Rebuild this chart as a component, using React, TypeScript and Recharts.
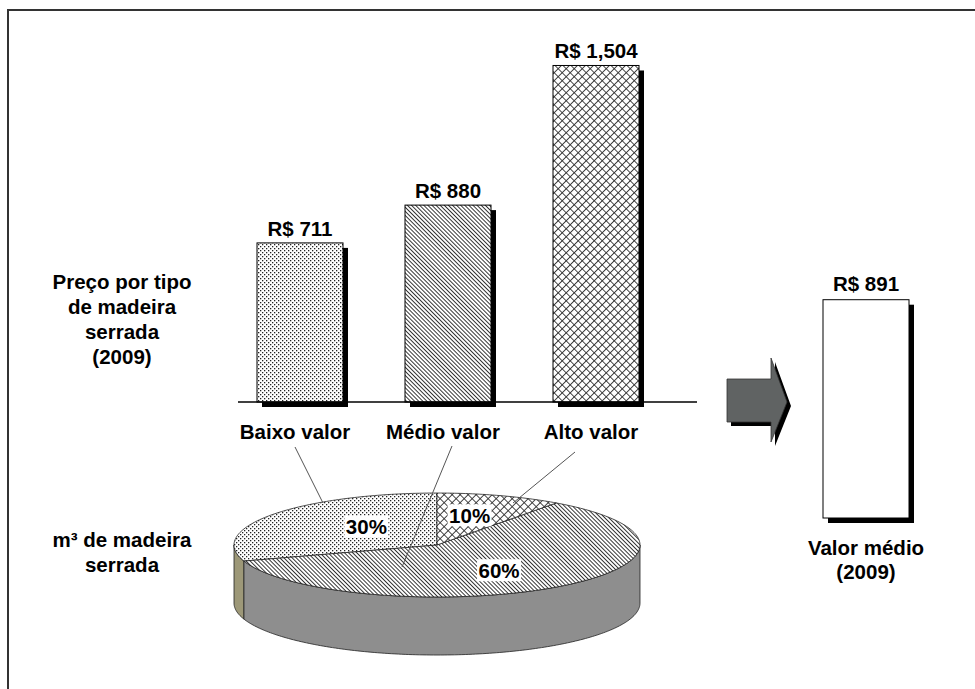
import React from 'react'
import { BarChart, Bar, XAxis, YAxis, Cell, LabelList, PieChart, Pie } from 'recharts'

const FONT = '"Liberation Sans", Arial, Helvetica, sans-serif'

// preço por tipo de madeira serrada (2009)
const priceTypes = ['Baixo valor', 'Médio valor', 'Alto valor']
const priceValues = [711, 880, 1504]

// m³ de madeira serrada, participação por tipo (%)
const volumeTypes = ['Baixo valor', 'Médio valor', 'Alto valor']
const volumeShares = [30, 60, 10]

// valor médio ponderado
const avgCategory = ['Valor médio\n(2009)']
const avgValues = [891]

const priceData = priceTypes.map((name, i) => ({ name, value: priceValues[i] }))
const volumeData = volumeTypes.map((name, i) => ({ name, value: volumeShares[i] }))
const avgData = avgCategory.map((name, i) => ({ name, value: avgValues[i] }))

const PATTERNS = ['dots', 'diag', 'cross']
const WALLS = ['#9d9878', '#8e8e8e', '#7a7a7a']

const TILT = 0.256
const DEPTH = 0.286
const RAD = Math.PI / 180

const fmt = (v: number) => `R$ ${v.toLocaleString('en-US')}`

const Patterns = ({ id }: { id: string }) => (
  <defs>
    <pattern id={`${id}-dots`} width={4} height={4} patternUnits='userSpaceOnUse'>
      <rect width={4} height={4} fill='#fff' />
      <rect x={0} y={0} width={1.3} height={1.3} fill='#222' />
      <rect x={2} y={2} width={1.3} height={1.3} fill='#222' />
    </pattern>
    <pattern id={`${id}-diag`} width={2.9} height={2.9} patternUnits='userSpaceOnUse' patternTransform='rotate(-45)'>
      <rect width={2.9} height={2.9} fill='#fff' />
      <rect width={0.9} height={2.9} fill='#222' />
    </pattern>
    <pattern id={`${id}-cross`} width={5.66} height={5.66} patternUnits='userSpaceOnUse' patternTransform='rotate(45)'>
      <rect width={5.66} height={5.66} fill='#fff' />
      <rect width={0.9} height={5.66} fill='#333' />
      <rect width={5.66} height={0.9} fill='#333' />
    </pattern>
  </defs>
)

const ShadowBar = (props: any) => {
  const { x, y, width, height, fill } = props
  return (
    <g>
      <rect x={x + 5} y={y + 5} width={width} height={height} fill='#000' />
      <rect x={x} y={y} width={width} height={height} fill={fill} stroke='#000' strokeWidth={1} />
    </g>
  )
}

const textStyle = { fontFamily: FONT, fontWeight: 'bold' as const, fontSize: 20.5, fill: '#000' }

const PriceTick = ({ x, y, payload }: any) => (
  <text x={x - 5} y={y + 37} textAnchor='middle' style={textStyle}>
    {payload.value}
  </text>
)

const AvgTick = ({ x, y, payload }: any) => (
  <text x={x} y={y} textAnchor='middle' style={textStyle}>
    {String(payload.value).split('\n').map((line, i) => (
      <tspan key={i} x={x} y={y + 37 + i * 24}>{line}</tspan>
    ))}
  </text>
)

const arcPts = (cx: number, cy: number, rx: number, ry: number, a0: number, a1: number, dy = 0) => {
  const n = Math.max(2, Math.ceil(Math.abs(a1 - a0)))
  const pts: string[] = []
  for (let k = 0; k <= n; k++) {
    const a = (a0 + ((a1 - a0) * k) / n) * RAD
    pts.push(`${(cx + rx * Math.cos(a)).toFixed(2)},${(cy - ry * Math.sin(a) + dy).toFixed(2)}`)
  }
  return pts
}

const PieSlice3D = (p: any) => {
  const { cx, cy, outerRadius, startAngle, endAngle, midAngle, index, value } = p
  const rx = outerRadius
  const ry = outerRadius * TILT
  const depth = outerRadius * DEPTH
  const a0 = Math.min(startAngle, endAngle)
  const a1 = Math.max(startAngle, endAngle)

  const walls: string[] = []
  for (const k of [-360, 0, 360]) {
    const lo = Math.max(a0, 180 + k)
    const hi = Math.min(a1, 360 + k)
    if (hi > lo) {
      const topEdge = arcPts(cx, cy, rx, ry, lo, hi)
      const bottomEdge = arcPts(cx, cy, rx, ry, hi, lo, depth)
      walls.push('M' + topEdge.join(' L') + ' L' + bottomEdge.join(' L') + ' Z')
    }
  }
  const face = `M${cx},${cy} L` + arcPts(cx, cy, rx, ry, a0, a1).join(' L') + ' Z'
  const cos = Math.cos(midAngle * RAD)
  const lx = cx + rx * (cos < 0 ? 0.43 : 0.52) * cos
  const ly = cy - ry * 0.6 * Math.sin(midAngle * RAD)
  return (
    <g>
      {walls.map((d, i) => (
        <path key={i} d={d} fill={WALLS[index]} stroke='#222' strokeWidth={0.8} />
      ))}
      <path d={face} fill={`url(#pie-${PATTERNS[index]})`} stroke='#222' strokeWidth={0.8} />
      <rect x={lx - 22} y={ly - 11} width={44} height={22} fill='#fff' />
      <text x={lx} y={ly} textAnchor='middle' dominantBaseline='central' style={textStyle}>
        {`${value}%`}
      </text>
    </g>
  )
}

export default function App() {
  return (
    <div style={{ position: 'absolute', left: 0, top: 0, width: 975, height: 689, background: '#fff', fontFamily: FONT }}>
      <div style={{ position: 'absolute', left: 226, top: 0 }}>
        <BarChart width={444} height={460} data={priceData} margin={{ top: 44, right: 0, bottom: 18, left: 0 }}>
          <Patterns id='bar' />
          <YAxis hide domain={[0, 1600]} />
          <XAxis dataKey='name' height={40} axisLine={false} tickLine={false} tickSize={0} tickMargin={0} tick={<PriceTick />} interval={0} />
          <Bar dataKey='value' barSize={86} isAnimationActive={false} shape={<ShadowBar />}>
            {priceData.map((d, i) => (
              <Cell key={d.name} fill={`url(#bar-${PATTERNS[i]})`} />
            ))}
            <LabelList dataKey='value' position='top' offset={7} formatter={fmt} {...textStyle} />
          </Bar>
        </BarChart>
      </div>

      <div style={{ position: 'absolute', left: 780, top: 240 }}>
        <BarChart width={172} height={348} data={avgData} margin={{ top: 33, right: 0, bottom: 0, left: 0 }}>
          <YAxis hide domain={[0, 1000]} />
          <XAxis dataKey='name' height={70} axisLine={false} tickLine={false} tickSize={0} tickMargin={0} tick={<AvgTick />} />
          <Bar dataKey='value' barSize={86} fill='#fff' isAnimationActive={false} shape={<ShadowBar />}>
            <LabelList dataKey='value' position='top' offset={9} formatter={fmt} {...textStyle} />
          </Bar>
        </BarChart>
      </div>

      <div style={{ position: 'absolute', left: 220, top: 470 }}>
        <PieChart width={440} height={200} margin={{ top: 0, right: 0, bottom: 0, left: 0 }}>
          <Patterns id='pie' />
          <Pie
            data={volumeData}
            dataKey='value'
            cx={217}
            cy={75}
            outerRadius={203}
            startAngle={90}
            endAngle={450}
            fill='none'
            stroke='none'
            label={PieSlice3D}
            labelLine={false}
            isAnimationActive={false}
          />
        </PieChart>
      </div>

      <svg width={975} height={689} style={{ position: 'absolute', left: 0, top: 0, pointerEvents: 'none' }}>
        <rect x={8} y={10} width={1000} height={1000} fill='none' stroke='#333' strokeWidth={2} />
        <line x1={238} y1={402} x2={697} y2={402} stroke='#000' strokeWidth={1.5} />

        <g stroke='#555' strokeWidth={1}>
          <line x1={295} y1={447} x2={323} y2={503} />
          <line x1={452} y1={446} x2={402} y2={567} />
          <line x1={575} y1={452} x2={513} y2={503} />
        </g>

        <polygon points='731,383 775,383 775,362 791,406 775,446 775,426 731,426' fill='#000' />
        <polygon points='727,379 771,379 771,358 787,402 771,442 771,422 727,422' fill='#606363' stroke='#333' strokeWidth={0.8} />

        <g style={textStyle} textAnchor='middle'>
          <text x={122} y={289}>Preço por tipo</text>
          <text x={122} y={314}>de madeira</text>
          <text x={122} y={339}>serrada</text>
          <text x={122} y={364}>(2009)</text>
          <text x={122} y={547}>m³ de madeira</text>
          <text x={122} y={572}>serrada</text>
        </g>
      </svg>
    </div>
  )
}
